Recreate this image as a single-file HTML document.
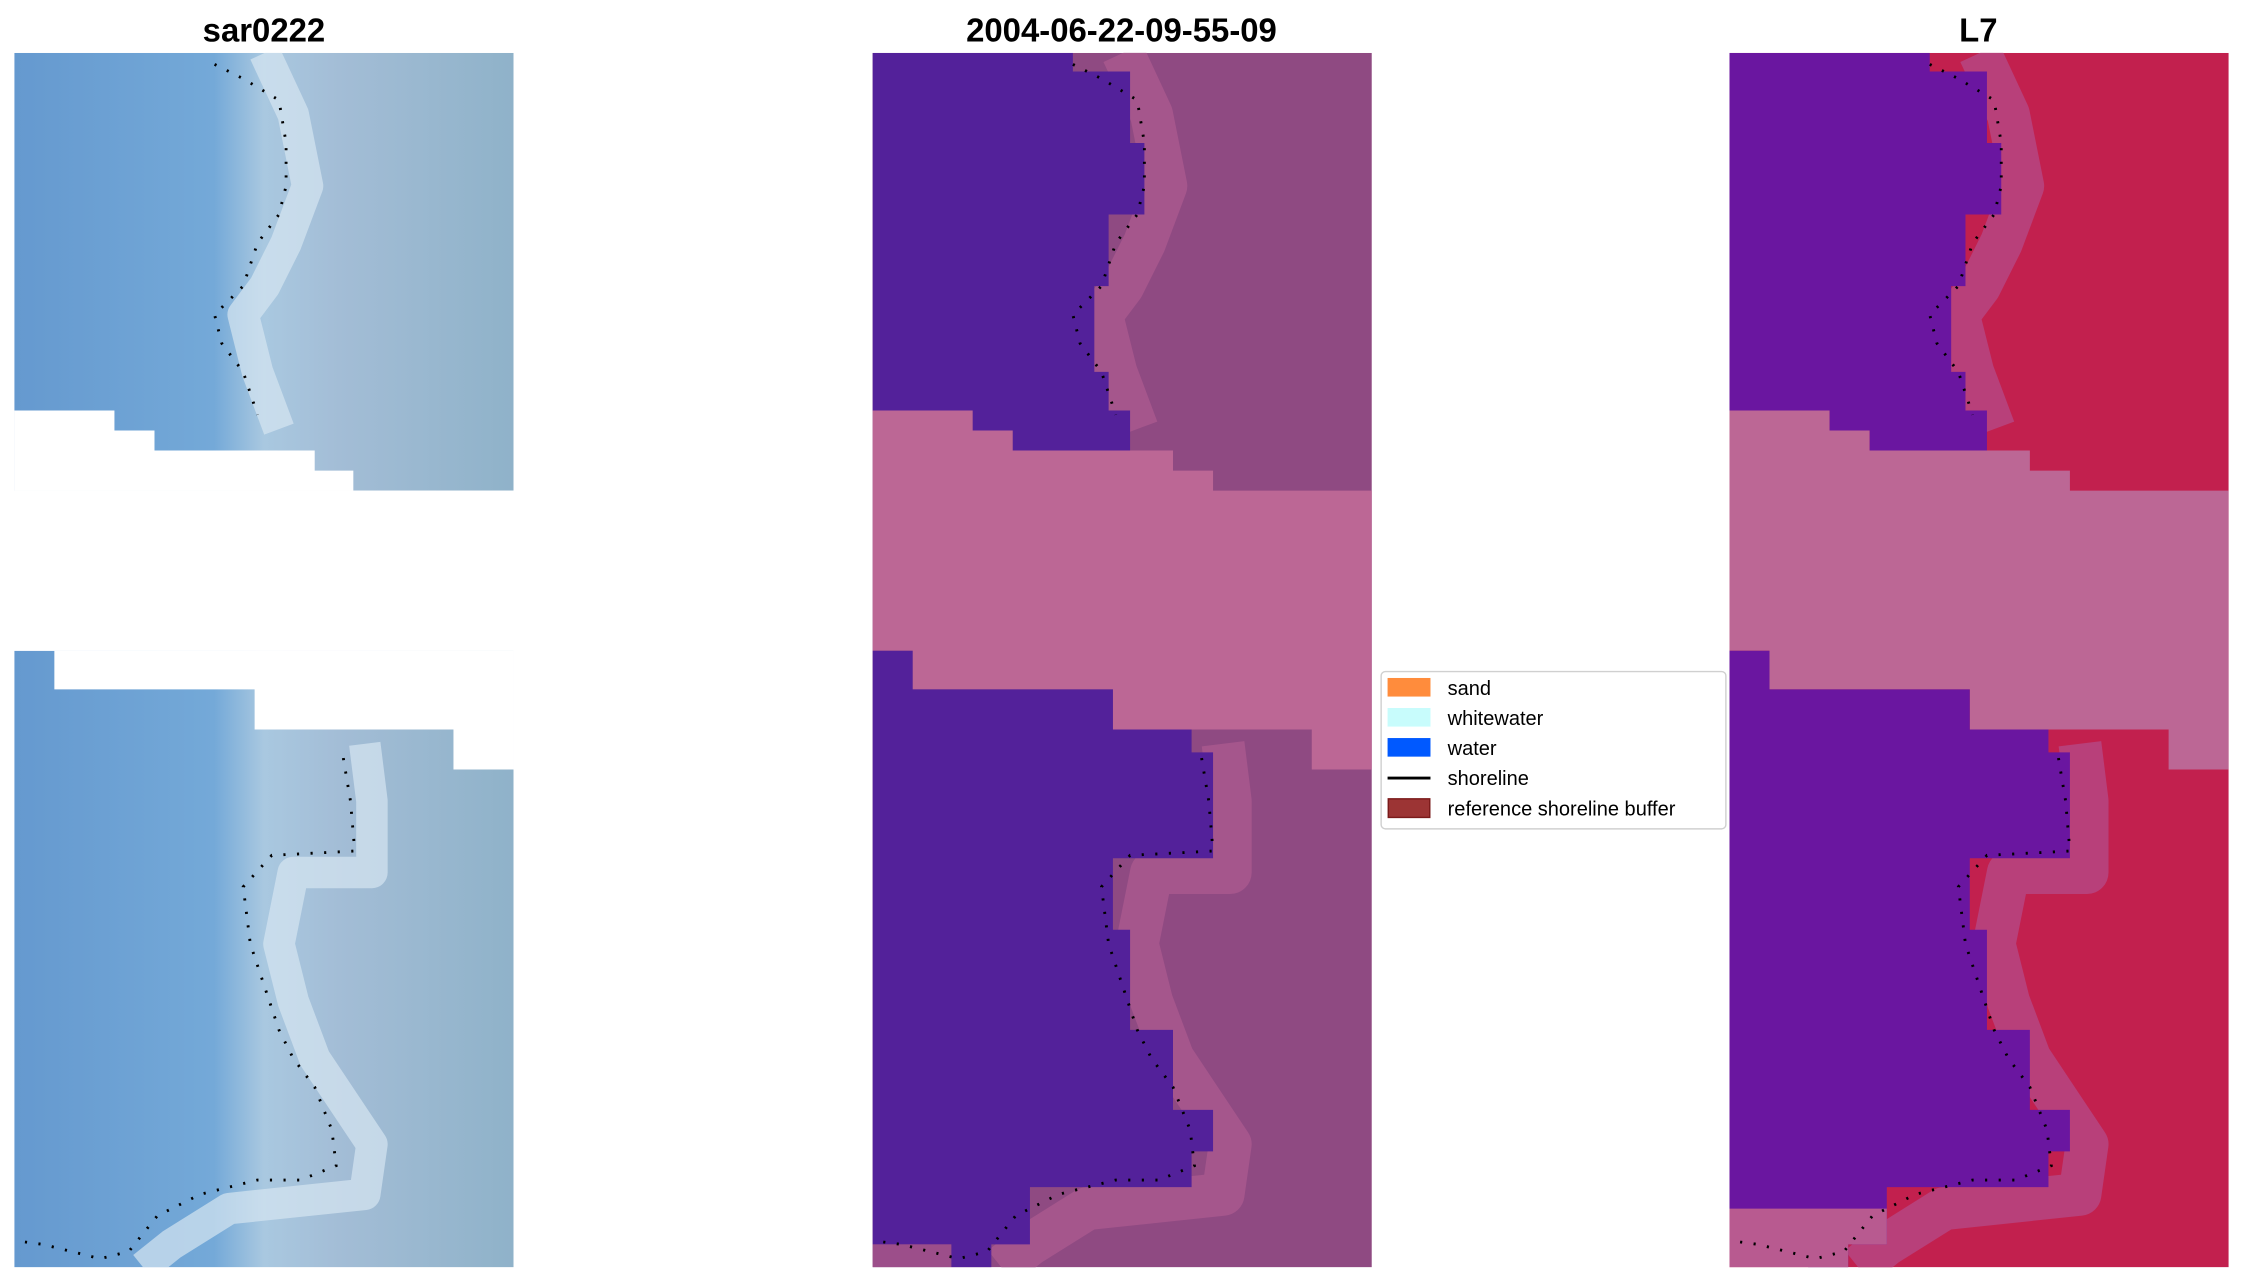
<!DOCTYPE html>
<html><head><meta charset="utf-8"><style>
html,body{margin:0;padding:0;background:#fff;}
svg{display:block;}
</style></head><body>
<svg width="2243" height="1283" viewBox="0 0 1568 897" preserveAspectRatio="none" xmlns="http://www.w3.org/2000/svg">
<defs>
<clipPath id="pc"><rect x="0" y="37" width="349" height="849"/></clipPath>
<linearGradient id="g1" x1="0" x2="1" y1="0" y2="0">
<stop offset="0" stop-color="#6599cf"/><stop offset="0.4" stop-color="#74a9d8"/><stop offset="0.5" stop-color="#a9c8e0"/><stop offset="0.65" stop-color="#a3bdd6"/><stop offset="1" stop-color="#8fb2c9"/>
</linearGradient>
<g id="water">
<polygon points="0,37 140,37 140,50 180,50 180,100 190,100 190,150 165,150 165,200 155,200 155,260 165,260 165,287 180,287 180,315 98,315 98,301 70,301 70,287 0,287"/>
<polygon points="0,455 28,455 28,482 168,482 168,510 223,510 223,526 238,526 238,600 168,600 168,650 180,650 180,720 210,720 210,776 238,776 238,805 223,805 223,830 110,830 110,870 83,870 83,886 55,886 55,870 0,870"/>
</g>
<polygon id="band" points="0,287 70,287 70,301 98,301 98,315 210,315 210,329 238,329 238,343 349,343 349,538 307,538 307,510 168,510 168,482 28,482 28,455 0,455"/>
<g id="coastA" fill="none" stroke-linejoin="round">
<polyline points="175,37 195,80 205,130 190,170 175,200 160,220 170,260 185,300"/>
<polyline points="245,520 250,560 250,610 195,610 185,660 195,700 210,740 230,770 250,800 245,835 150,845 110,870 90,886"/>
</g>
<g id="shore" fill="none" stroke="#000" stroke-width="2" stroke-dasharray="1.5 8">
<polyline points="140,45 160,55 185,70 190,100 190,130 185,150 170,170 160,200 140,220 145,240 160,260 170,290"/>
<polyline points="230,530 235,560 238,595 180,598 160,620 165,660 175,690 185,720 195,740 210,760 222,790 225,815 200,825 170,825 130,835 100,850 80,875 60,880 20,870 5,868"/>
</g>
</defs>

<!-- Panel 1 -->
<g transform="translate(10,0)">
<g clip-path="url(#pc)">
<rect x="0" y="37" width="349" height="306" fill="url(#g1)"/>
<rect x="0" y="455" width="349" height="431" fill="url(#g1)"/>
<use href="#coastA" stroke="#d6e6f1" stroke-width="22" stroke-opacity="0.7"/>
</g>
<polygon fill="#fff" points="0,287 70,287 70,301 98,301 98,315 210,315 210,329 237,329 237,343 0,343"/>
<rect x="0" y="343" width="349" height="112" fill="#fff"/>
<polygon fill="#fff" points="28,455 349,455 349,538 307,538 307,510 168,510 168,482 28,482"/>
<use href="#shore"/>
</g>

<!-- Panel 2 -->
<g transform="translate(610,0)">
<g clip-path="url(#pc)">
<rect x="0" y="37" width="349" height="849" fill="#8f4a82"/>
<use href="#coastA" stroke="#a5568c" stroke-width="30"/>
<use href="#band" fill="#bc6795"/>
<use href="#water" fill="#53219a"/>
<polygon fill="#9c4e8a" points="0,870 55,870 55,886 0,886"/>
</g>
<use href="#shore"/>
</g>

<!-- Panel 3 -->
<g transform="translate(1209,0)">
<g clip-path="url(#pc)">
<rect x="0" y="37" width="349" height="849" fill="#c2204e"/>
<use href="#coastA" stroke="#b8407a" stroke-width="30"/>
<use href="#band" fill="#bc6795"/>
<use href="#water" fill="#6a16a0"/>
<polygon fill="#b85a90" points="0,845 110,845 110,870 83,870 83,886 0,886"/>
</g>
<use href="#shore"/>
</g>

<g font-family="Liberation Sans, sans-serif" font-weight="bold" font-size="23" text-anchor="middle" fill="#000">
<text x="184.5" y="29">sar0222</text>
<text x="784" y="29">2004-06-22-09-55-09</text>
<text x="1383" y="29">L7</text>
</g>

<!-- Legend -->
<rect x="965.5" y="469.5" width="241" height="110" rx="3" fill="#fff" stroke="#d0d0d0" stroke-width="1"/>
<rect x="970" y="474" width="30" height="13" fill="#ff8c3c"/>
<rect x="970" y="495" width="30" height="13" fill="#c8fcfc"/>
<rect x="970" y="516" width="30" height="13" fill="#0059ff"/>
<line x1="970" y1="544" x2="1000" y2="544" stroke="#000" stroke-width="2"/>
<rect x="970.5" y="558.5" width="29" height="13" fill="#9c3434" stroke="#7a1a1a" stroke-width="1"/>
<g font-family="Liberation Sans, DejaVu Sans, sans-serif" font-size="14" fill="#000">
<text x="1012" y="486">sand</text>
<text x="1012" y="507">whitewater</text>
<text x="1012" y="528">water</text>
<text x="1012" y="549">shoreline</text>
<text x="1012" y="570">reference shoreline buffer</text>
</g>
</svg>
</body></html>
